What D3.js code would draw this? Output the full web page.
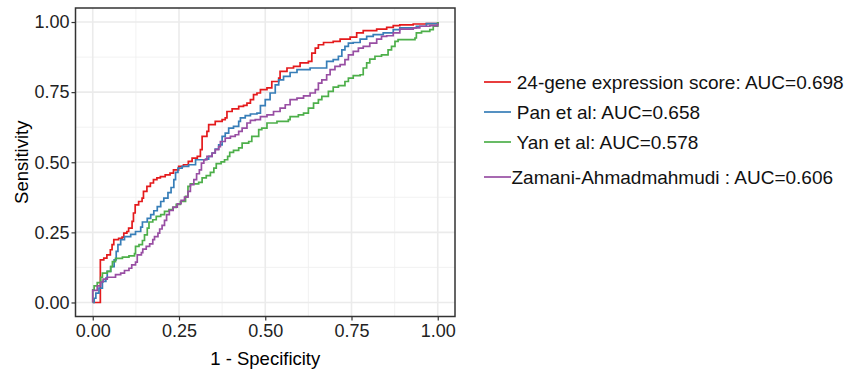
<!DOCTYPE html>
<html>
<head>
<meta charset="utf-8">
<script src="https://cdn.jsdelivr.net/npm/d3@7"></script>
<style>
  body { margin: 0; background: #fff; }
  text { font-family: "Liberation Sans", Arial, sans-serif; }
</style>
</head>
<body>
<div id="chart"></div>
<script>
// ROC curves (1 - specificity, sensitivity)
var redFpr = [0,0.017,0.022,0.032,0.041,0.051,0.056,0.061,0.075,0.085,0.090,0.099,0.104,0.114,0.118,0.123,0.133,0.143,0.147,0.157,0.167,0.176,0.186,0.196,0.210,0.224,0.234,0.249,0.263,0.277,0.288,0.303,0.312,0.317,0.331,0.336,0.355,0.375,0.384,0.389,0.404,0.423,0.437,0.447,0.457,0.466,0.476,0.486,0.505,0.519,0.539,0.543,0.563,0.582,0.601,0.625,0.635,0.645,0.654,0.669,0.697,0.717,0.746,0.765,0.784,0.823,0.852,0.871,0.890,0.929,0.967,1];
var redTpr = [0,0,0.152,0.158,0.170,0.188,0.206,0.224,0.229,0.233,0.247,0.253,0.265,0.289,0.319,0.348,0.360,0.372,0.396,0.414,0.426,0.438,0.444,0.449,0.455,0.461,0.473,0.485,0.491,0.503,0.515,0.521,0.545,0.592,0.610,0.634,0.646,0.652,0.658,0.681,0.690,0.699,0.703,0.711,0.723,0.741,0.747,0.759,0.765,0.788,0.800,0.824,0.836,0.842,0.854,0.860,0.889,0.907,0.919,0.927,0.931,0.939,0.946,0.961,0.969,0.975,0.981,0.987,0.990,0.993,0.994,1];

var blueFpr = [0,0.004,0.009,0.018,0.028,0.038,0.042,0.052,0.062,0.068,0.073,0.081,0.092,0.110,0.124,0.139,0.144,0.158,0.168,0.177,0.187,0.197,0.206,0.218,0.227,0.235,0.240,0.247,0.259,0.278,0.298,0.327,0.336,0.346,0.355,0.365,0.375,0.384,0.394,0.408,0.423,0.428,0.442,0.457,0.476,0.486,0.500,0.514,0.529,0.539,0.553,0.572,0.592,0.630,0.669,0.678,0.697,0.712,0.722,0.731,0.741,0.755,0.775,0.794,0.813,0.842,0.866,0.871,0.890,0.938,0.967,1];
var blueTpr = [0,0.015,0.033,0.051,0.075,0.087,0.111,0.128,0.152,0.182,0.206,0.224,0.235,0.243,0.253,0.269,0.287,0.300,0.313,0.327,0.342,0.360,0.372,0.392,0.410,0.438,0.464,0.479,0.485,0.491,0.509,0.511,0.521,0.533,0.547,0.562,0.592,0.604,0.622,0.628,0.646,0.658,0.666,0.672,0.675,0.702,0.723,0.747,0.776,0.794,0.806,0.820,0.830,0.836,0.836,0.860,0.866,0.878,0.901,0.913,0.925,0.927,0.939,0.949,0.955,0.961,0.961,0.973,0.979,0.985,0.994,1];

var greenFpr = [0,0,0.004,0.013,0.023,0.028,0.042,0.052,0.057,0.066,0.086,0.105,0.121,0.124,0.134,0.144,0.150,0.158,0.163,0.174,0.184,0.197,0.208,0.221,0.232,0.242,0.254,0.269,0.276,0.283,0.307,0.317,0.329,0.341,0.351,0.358,0.372,0.382,0.391,0.397,0.408,0.423,0.433,0.452,0.461,0.481,0.490,0.505,0.534,0.567,0.572,0.596,0.611,0.625,0.640,0.654,0.664,0.683,0.697,0.712,0.731,0.741,0.755,0.775,0.784,0.794,0.803,0.818,0.837,0.856,0.866,0.876,0.885,0.909,0.934,0.938,0.953,0.977,0.987,1];
var greenTpr = [0,0.045,0.059,0.071,0.090,0.105,0.111,0.128,0.146,0.157,0.162,0.166,0.174,0.200,0.206,0.221,0.241,0.265,0.287,0.295,0.307,0.313,0.325,0.331,0.339,0.350,0.360,0.378,0.414,0.423,0.428,0.444,0.452,0.464,0.479,0.495,0.501,0.509,0.521,0.535,0.542,0.551,0.568,0.574,0.592,0.616,0.622,0.640,0.646,0.652,0.663,0.669,0.675,0.693,0.711,0.723,0.735,0.753,0.768,0.773,0.788,0.800,0.809,0.812,0.836,0.854,0.868,0.878,0.883,0.901,0.913,0.931,0.937,0.937,0.943,0.961,0.967,0.973,0.985,1];

var purpleFpr = [0,0,0.009,0.013,0.023,0.030,0.042,0.066,0.081,0.092,0.105,0.113,0.124,0.129,0.141,0.145,0.155,0.165,0.174,0.179,0.189,0.194,0.201,0.208,0.214,0.222,0.233,0.245,0.256,0.266,0.276,0.283,0.293,0.301,0.309,0.315,0.322,0.331,0.346,0.355,0.365,0.370,0.384,0.399,0.413,0.423,0.433,0.447,0.457,0.471,0.486,0.505,0.524,0.543,0.558,0.572,0.592,0.611,0.630,0.645,0.654,0.664,0.678,0.688,0.702,0.717,0.731,0.741,0.755,0.770,0.784,0.803,0.823,0.837,0.852,0.871,0.890,0.929,0.948,0.977,1];
var purpleTpr = [0,0.043,0.043,0.059,0.073,0.083,0.090,0.099,0.105,0.114,0.122,0.134,0.144,0.170,0.178,0.190,0.200,0.209,0.224,0.235,0.247,0.262,0.275,0.293,0.313,0.328,0.340,0.352,0.364,0.376,0.396,0.420,0.438,0.459,0.473,0.497,0.509,0.521,0.533,0.545,0.556,0.574,0.586,0.592,0.598,0.610,0.622,0.640,0.649,0.652,0.663,0.669,0.681,0.693,0.705,0.723,0.729,0.737,0.747,0.759,0.782,0.794,0.812,0.830,0.842,0.848,0.866,0.883,0.895,0.907,0.913,0.925,0.939,0.949,0.951,0.961,0.975,0.979,0.985,0.987,0.996];

var seriesNames = [" 24-gene expression score: AUC=0.698", " Pan et al: AUC=0.658", " Yan et al: AUC=0.578", "Zamani-Ahmadmahmudi : AUC=0.606"];
var tickValues = [0, 0.25, 0.5, 0.75, 1];
var minorValues = [0.125, 0.375, 0.625, 0.875];

var seriesColors = ["#e41a1c", "#377eb8", "#4daf4a", "#984ea3"];

var series = [
  d3.zip(redFpr, redTpr),
  d3.zip(blueFpr, blueTpr),
  d3.zip(greenFpr, greenTpr),
  d3.zip(purpleFpr, purpleTpr)
];

var W = 854, H = 371;
var panel = { left: 75.5, right: 455, top: 8, bottom: 316.5 };

var svg = d3.select("#chart").append("svg")
  .attr("width", W).attr("height", H);

var x = d3.scaleLinear().domain([-0.05, 1.05]).range([panel.left, panel.right]);
var y = d3.scaleLinear().domain([-0.05, 1.05]).range([panel.bottom, panel.top]);

// panel background
svg.append("rect")
  .attr("x", panel.left).attr("y", panel.top)
  .attr("width", panel.right - panel.left).attr("height", panel.bottom - panel.top)
  .attr("fill", "#fff");

// grid lines
var grid = svg.append("g");
grid.selectAll(".vminor").data(minorValues).enter().append("line")
  .attr("x1", d => x(d)).attr("x2", d => x(d))
  .attr("y1", panel.top).attr("y2", panel.bottom)
  .attr("stroke", "#efefef").attr("stroke-width", 0.8);
grid.selectAll(".hminor").data(minorValues).enter().append("line")
  .attr("y1", d => y(d)).attr("y2", d => y(d))
  .attr("x1", panel.left).attr("x2", panel.right)
  .attr("stroke", "#efefef").attr("stroke-width", 0.8);
grid.selectAll(".vmajor").data(tickValues).enter().append("line")
  .attr("x1", d => x(d)).attr("x2", d => x(d))
  .attr("y1", panel.top).attr("y2", panel.bottom)
  .attr("stroke", "#ebebeb").attr("stroke-width", 1.6);
grid.selectAll(".hmajor").data(tickValues).enter().append("line")
  .attr("y1", d => y(d)).attr("y2", d => y(d))
  .attr("x1", panel.left).attr("x2", panel.right)
  .attr("stroke", "#ebebeb").attr("stroke-width", 1.6);

// curves
var line = d3.line()
  .x(d => x(d[0]))
  .y(d => y(d[1]))
  .curve(d3.curveStepAfter);

svg.selectAll(".roc").data(series).enter().append("path")
  .attr("class", "roc")
  .attr("d", line)
  .attr("fill", "none")
  .attr("stroke", (d, i) => seriesColors[i])
  .attr("stroke-width", 1.7);

// panel border
svg.append("rect")
  .attr("x", panel.left).attr("y", panel.top)
  .attr("width", panel.right - panel.left).attr("height", panel.bottom - panel.top)
  .attr("fill", "none").attr("stroke", "#333").attr("stroke-width", 1.5);

// axes
var fmt = d3.format(".2f");
var xAxis = svg.append("g")
  .attr("transform", "translate(0," + panel.bottom + ")")
  .call(d3.axisBottom(x).tickValues(tickValues).tickFormat(fmt).tickSize(4).tickSizeOuter(0).tickPadding(4));
var yAxis = svg.append("g")
  .attr("transform", "translate(" + panel.left + ",0)")
  .call(d3.axisLeft(y).tickValues(tickValues).tickFormat(fmt).tickSize(4).tickSizeOuter(0).tickPadding(2));

[xAxis, yAxis].forEach(function(g) {
  g.select(".domain").remove();
  g.selectAll(".tick line").attr("stroke", "#333").attr("stroke-width", 1.2);
  g.selectAll(".tick text")
    .attr("fill", "#222")
    .style("font-size", "18px")
    .style("font-family", "'Liberation Sans', Arial, sans-serif");
});

// axis titles
svg.append("text")
  .attr("x", x(0.5)).attr("y", 364.5)
  .attr("text-anchor", "middle")
  .style("font-size", "18.5px")
  .attr("fill", "#000")
  .text("1 - Specificity");

svg.append("text")
  .attr("transform", "translate(28," + ((panel.top + panel.bottom) / 2) + ") rotate(-90)")
  .attr("text-anchor", "middle")
  .style("font-size", "18.5px")
  .attr("fill", "#000")
  .text("Sensitivity");

// legend
var legendY = [82, 112, 142, 177];
var legend = svg.selectAll(".legend").data(seriesNames).enter().append("g")
  .attr("class", "legend")
  .attr("transform", (d, i) => "translate(484," + legendY[i] + ")");
legend.append("line")
  .attr("x1", 0).attr("x2", 27)
  .attr("stroke", (d, i) => seriesColors[i])
  .attr("stroke-width", 1.7);
legend.append("text")
  .attr("x", 27.5).attr("dy", "0.36em")
  .style("font-size", "19px")
  .style("white-space", "pre")
  .attr("fill", "#111")
  .text(d => d);
</script>
</body>
</html>
